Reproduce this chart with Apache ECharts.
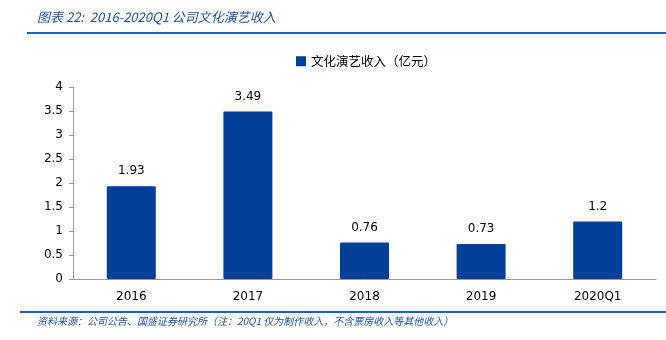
<!DOCTYPE html>
<html><head><meta charset="utf-8">
<script src="https://cdn.jsdelivr.net/npm/echarts@6/dist/echarts.min.js"></script>
<style>html,body{margin:0;padding:0;background:#fff}#c{width:666px;height:340px}</style>
</head><body><div id="c"></div>
<script>
const categories = ['2016','2017','2018','2019','2020Q1'];
const revenue = [1.93, 3.49, 0.76, 0.73, 1.2];
const seriesName = '文化演艺收入（亿元）';
const titleText = '图表 22:  2016-2020Q1 公司文化演艺收入';
const sourceText = '资料来源：公司公告、国盛证券研究所（注：20Q1 仅为制作收入，不含票房收入等其他收入）';

const chart = echarts.init(document.getElementById('c'));
chart.setOption({
  animation: false,
  backgroundColor: '#fff',
  textStyle: {fontFamily: 'DejaVu Sans, "Noto Sans CJK SC"'},
  legend: {
    data: [seriesName], top: 50, left: 291,
    icon: 'rect', itemWidth: 10, itemHeight: 10, itemGap: 3,
    textStyle: {fontSize: 12.5, color: '#000', fontFamily: '"Noto Sans CJK SC"'}
  },
  grid: {left: 73, right: 10, top: 87, bottom: 61, containLabel: false},
  xAxis: {
    type: 'category', data: categories,
    axisLine: {lineStyle: {color: '#999'}},
    axisTick: {inside: true, length: 4, lineStyle: {color: '#999'}},
    axisLabel: {color: '#000', fontSize: 12, margin: 12}
  },
  yAxis: {
    type: 'value', min: 0, max: 4, interval: 0.5,
    axisLine: {show: true, lineStyle: {color: '#999'}},
    axisTick: {show: true, length: 4, lineStyle: {color: '#999'}},
    splitLine: {show: false},
    axisLabel: {color: '#000', fontSize: 12, margin: 10}
  },
  series: [{
    name: seriesName, type: 'bar', data: revenue, barWidth: 49,
    itemStyle: {color: '#003f98', borderRadius: 1},
    label: {show: true, position: 'top', color: '#000', fontSize: 12, distance: 9}
  }],
  graphic: [
    {type: 'text', left: 37, top: 11, style: {text: titleText, fill: '#1f4e9c', font: 'italic 13px "Noto Sans CJK SC", sans-serif'}},
    {type: 'line', shape: {x1: 27, y1: 33, x2: 666, y2: 33}, style: {stroke: '#1f5fb3', lineWidth: 2}},
    {type: 'line', shape: {x1: 20, y1: 312, x2: 666, y2: 312}, style: {stroke: '#1f5fb3', lineWidth: 2}},
    {type: 'text', left: 37, top: 316, style: {text: sourceText, fill: '#1f4e9c', font: 'italic 10px "Noto Sans CJK SC", sans-serif'}}
  ]
});
</script></body></html>
